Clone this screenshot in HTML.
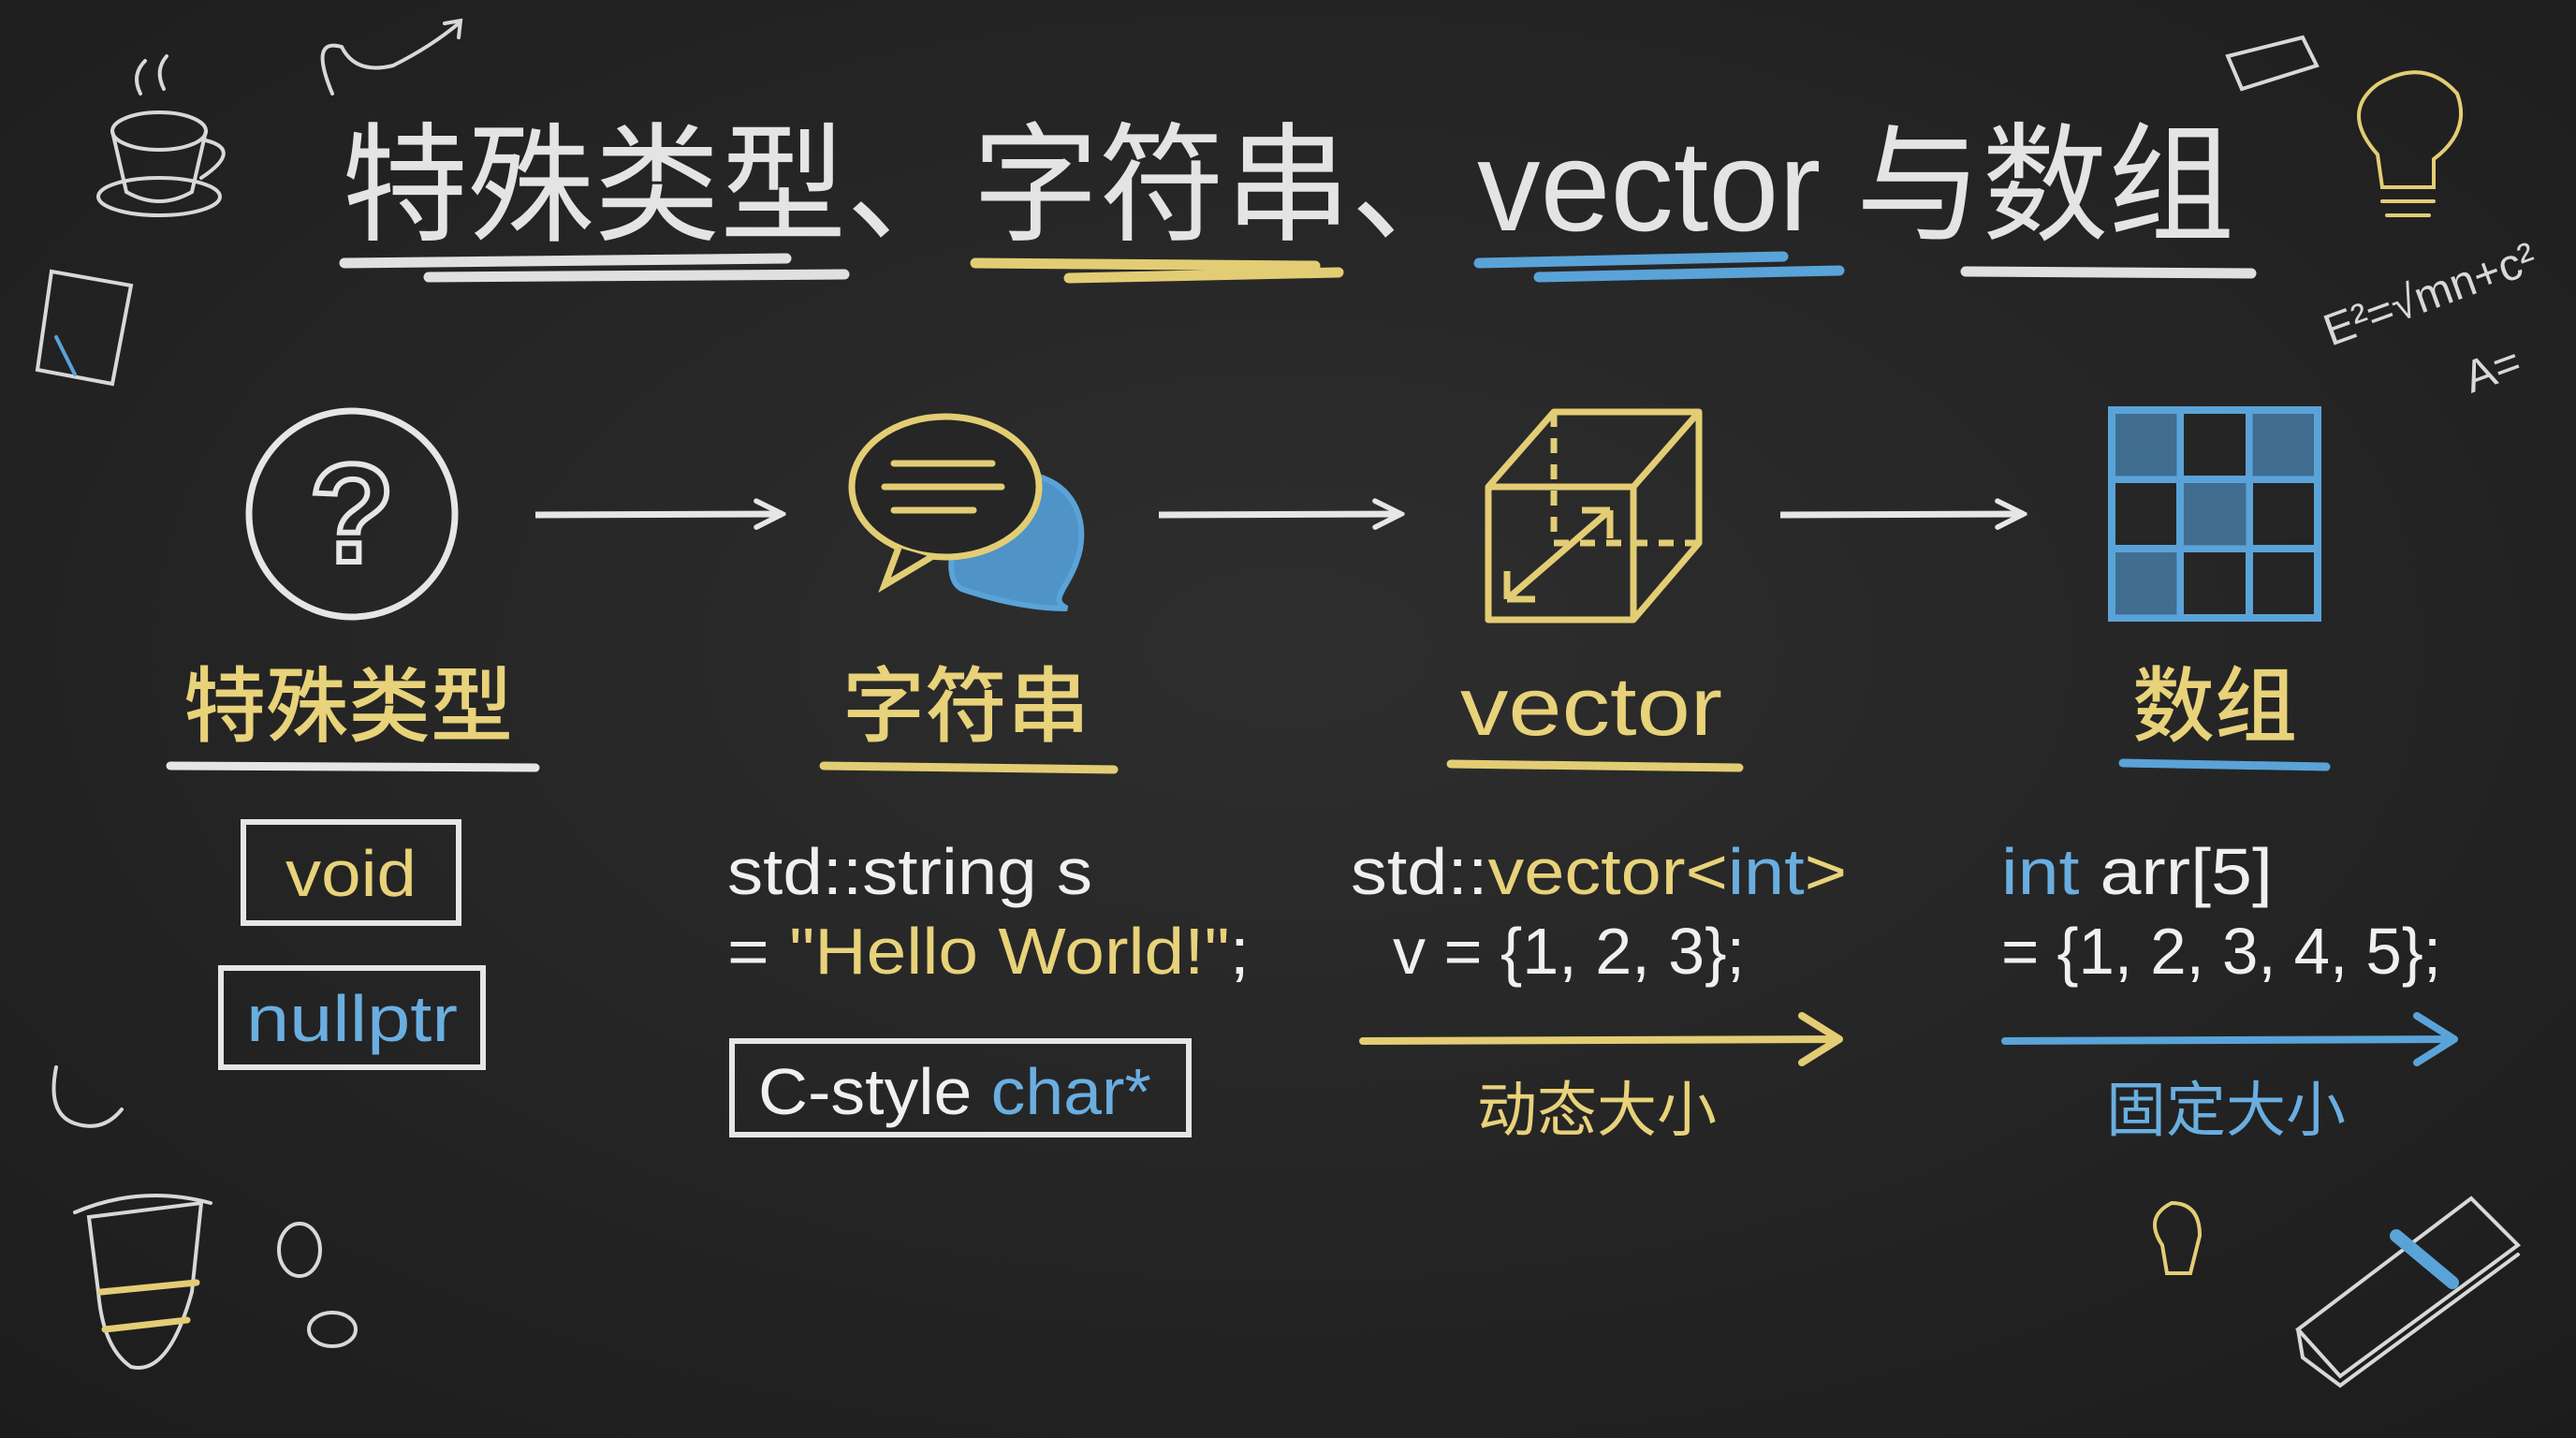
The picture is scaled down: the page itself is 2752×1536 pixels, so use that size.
<!DOCTYPE html>
<html><head><meta charset="utf-8"><style>
html,body{margin:0;padding:0;background:#262626;}
svg{display:block}
text{font-family:"Liberation Sans","Noto Sans CJK SC",sans-serif;}
</style></head><body>
<svg width="2752" height="1536" viewBox="0 0 2752 1536" xmlns="http://www.w3.org/2000/svg">
<defs>
<radialGradient id="bg" cx="50%" cy="45%" r="75%">
<stop offset="0" stop-color="#2e2e2e"/><stop offset="1" stop-color="#1c1c1c"/>
</radialGradient>
<marker id="ah" viewBox="0 0 10 10" refX="9" refY="5" markerWidth="5" markerHeight="5" orient="auto"><path d="M1 1 L9 5 L1 9" fill="none" stroke="#e6e6e6" stroke-width="1.6" stroke-linecap="round"/></marker>
</defs>
<rect width="2752" height="1536" fill="url(#bg)"/>

<!-- Title -->
<g font-family="Liberation Sans, Noto Sans CJK SC, sans-serif">
<text x="365" y="246" font-size="138" fill="#e4e4e4" font-family="Noto Sans CJK SC, sans-serif" textLength="2022" lengthAdjust="spacingAndGlyphs">特殊类型、字符串、vector 与数组</text>
</g>
<g stroke-linecap="round" fill="none" stroke-width="11">
<path d="M368 281 L840 276" stroke="#e0e0e0"/><path d="M458 296 L902 293" stroke="#e0e0e0"/>
<path d="M1042 281 L1405 284" stroke="#e3cd74"/><path d="M1142 297 L1430 291" stroke="#e3cd74"/>
<path d="M1580 281 L1905 274" stroke="#5aa3d8"/><path d="M1644 296 L1965 289" stroke="#5aa3d8"/>
<path d="M2100 290 L2405 292" stroke="#e0e0e0"/>
</g>

<!-- Icons -->
<circle cx="376" cy="549" r="110" fill="none" stroke="#e6e6e6" stroke-width="7"/>
<text x="376" y="600" font-size="150" fill="none" stroke="#e6e6e6" stroke-width="6" text-anchor="middle" font-weight="bold">?</text>

<path d="M572 550 L836 549" stroke="#e6e6e6" stroke-width="7" fill="none" marker-end="url(#ah)"/>
<path d="M1238 550 L1497 549" stroke="#e6e6e6" stroke-width="7" fill="none" marker-end="url(#ah)"/>
<path d="M1902 550 L2162 549" stroke="#e6e6e6" stroke-width="7" fill="none" marker-end="url(#ah)"/>

<!-- speech bubbles -->
<path d="M1080 505 C1150 505 1165 560 1150 600 C1140 630 1120 640 1140 650 C1100 650 1060 640 1030 630 C1000 620 1020 540 1080 505 Z" fill="#4f93c7" stroke="#5aa3d8" stroke-width="6"/>
<ellipse cx="1010" cy="520" rx="100" ry="75" fill="#262626" stroke="#e3cd74" stroke-width="7"/>
<path d="M960 585 L945 625 L995 595" fill="#262626" stroke="#e3cd74" stroke-width="7"/>
<g stroke="#e3cd74" stroke-width="7" stroke-linecap="round"><path d="M955 495 H1060"/><path d="M945 520 H1070"/><path d="M955 545 H1040"/></g>

<!-- cube -->
<g fill="none" stroke="#e3cd74" stroke-width="7" stroke-linejoin="round">
<path d="M1590 520 L1660 440 L1815 440 L1815 580 L1745 662 L1590 662 Z"/>
<path d="M1590 520 L1745 520 L1815 440 M1745 520 L1745 662"/>
<path d="M1660 440 L1660 580 L1815 580" stroke-dasharray="16 12"/>
<path d="M1610 640 L1720 545 M1610 640 L1610 610 M1610 640 L1640 640 M1720 545 L1690 545 M1720 545 L1720 575"/>
</g>

<!-- grid -->
<g fill="none" stroke="#5aa3d8" stroke-width="8">
<rect x="2256" y="438" width="220" height="222"/>
<path d="M2329 438 V660 M2403 438 V660 M2256 512 H2476 M2256 586 H2476"/>
</g>
<g fill="#4a86b4" opacity="0.75"><rect x="2260" y="442" width="66" height="67"/><rect x="2406" y="442" width="66" height="67"/><rect x="2333" y="516" width="67" height="67"/><rect x="2260" y="590" width="66" height="67"/></g>

<!-- labels -->
<g font-family="Noto Sans CJK SC, sans-serif" font-size="88" fill="#e8d27a" text-anchor="middle" font-weight="500">
<text x="372" y="785">特殊类型</text>
<text x="1032" y="785">字符串</text>
<text x="1700" y="785" font-family="Liberation Sans, sans-serif" textLength="280" lengthAdjust="spacingAndGlyphs">vector</text>
<text x="2366" y="785">数组</text>
</g>
<g stroke-linecap="round" stroke-width="9" fill="none">
<path d="M182 818 L572 820" stroke="#e6e6e6"/>
<path d="M880 818 L1190 822" stroke="#e3cd74"/>
<path d="M1550 816 L1858 820" stroke="#e3cd74"/>
<path d="M2268 815 L2485 819" stroke="#5aa3d8"/>
</g>

<!-- void / nullptr boxes -->
<g fill="none" stroke="#e6e6e6" stroke-width="6">
<rect x="260" y="878" width="230" height="108"/>
<rect x="236" y="1034" width="280" height="106"/>
<rect x="782" y="1112" width="488" height="100"/>
</g>
<g font-size="70" font-family="Liberation Sans, Noto Sans CJK SC, sans-serif">
<text x="375" y="957" fill="#e8d27a" text-anchor="middle" textLength="140" lengthAdjust="spacingAndGlyphs">void</text>
<text x="376" y="1112" fill="#6aaee0" text-anchor="middle" textLength="226" lengthAdjust="spacingAndGlyphs">nullptr</text>
<text x="810" y="1190" fill="#f0f0f0" textLength="420" lengthAdjust="spacingAndGlyphs">C-style <tspan fill="#6aaee0">char*</tspan></text>

<text x="777" y="955" fill="#f0f0f0" textLength="390" lengthAdjust="spacingAndGlyphs">std::string s</text>
<text x="777" y="1040" fill="#f0f0f0" textLength="558" lengthAdjust="spacingAndGlyphs">= <tspan fill="#e8d27a">"Hello World!"</tspan>;</text>

<text x="1443" y="955" fill="#f0f0f0" textLength="530" lengthAdjust="spacingAndGlyphs">std::<tspan fill="#e8d27a">vector&lt;</tspan><tspan fill="#6aaee0">int</tspan><tspan fill="#e8d27a">&gt;</tspan></text>
<text x="1488" y="1040" fill="#f0f0f0" textLength="376" lengthAdjust="spacingAndGlyphs">v = {1, 2, 3};</text>

<text x="2138" y="955" fill="#f0f0f0" textLength="290" lengthAdjust="spacingAndGlyphs"><tspan fill="#6aaee0">int</tspan> arr[5]</text>
<text x="2138" y="1040" fill="#f0f0f0" textLength="470" lengthAdjust="spacingAndGlyphs">= {1, 2, 3, 4, 5};</text>
</g>

<!-- size arrows -->
<g fill="none" stroke-width="8" stroke-linecap="round" stroke-linejoin="round">
<path d="M1456 1112 L1965 1110 M1925 1085 L1965 1110 L1925 1135" stroke="#e3cd74"/>
<path d="M2142 1112 L2622 1110 M2582 1085 L2622 1110 L2582 1135" stroke="#5aa3d8"/>
</g>
<g font-family="Noto Sans CJK SC, sans-serif" font-size="64" text-anchor="middle">
<text x="1706" y="1208" fill="#e8d27a">动态大小</text>
<text x="2378" y="1208" fill="#6aaee0">固定大小</text>
</g>

<!-- doodles -->
<g fill="none" stroke="#d8d8d8" stroke-width="4" stroke-linecap="round">
<ellipse cx="170" cy="140" rx="50" ry="20"/><path d="M120 140 L135 205 Q170 225 205 205 L220 140"/>
<path d="M220 150 Q260 160 215 190"/><ellipse cx="170" cy="210" rx="65" ry="20"/>
<path d="M150 100 Q140 80 155 65 M175 95 Q165 75 178 60"/>
<path d="M355 100 Q330 40 365 50 Q380 80 420 70 Q460 50 490 25 M475 25 L492 22 L490 40"/>
<path d="M55 290 L140 305 L120 410 L40 395 Z" /><path d="M60 360 L80 400" stroke="#5aa3d8"/>
<path d="M2380 60 L2460 40 L2475 70 L2395 95 Z M2380 60 L2395 95"/>
<path d="M2540 165 Q2500 120 2540 90 Q2590 60 2625 100 Q2640 140 2600 170 L2600 200 L2545 200 Z" stroke="#e3cd74"/>
<path d="M2545 215 H2600 M2550 230 H2595" stroke="#e3cd74"/>
<text x="2490" y="370" font-size="48" fill="#d8d8d8" stroke="none" font-family="Liberation Serif, serif" transform="rotate(-20 2490 370)">E²=√mn+c²</text>
<text x="2640" y="420" font-size="48" fill="#d8d8d8" stroke="none" font-family="Liberation Serif, serif" transform="rotate(-20 2640 420)">A=</text>
<path d="M95 1300 L215 1285 L205 1380 Q180 1470 140 1460 Q110 1440 105 1380 Z"/><path d="M80 1295 Q150 1265 225 1285"/>
<path d="M108 1380 L210 1370 M112 1420 L200 1410" stroke="#e3cd74" stroke-width="7"/>
<ellipse cx="320" cy="1335" rx="22" ry="28"/><ellipse cx="355" cy="1420" rx="25" ry="18"/>
<path d="M60 1140 Q50 1190 80 1200 Q110 1210 130 1185"/>
<path d="M2310 1330 Q2290 1300 2320 1285 Q2350 1285 2350 1320 L2340 1360 L2315 1360 Z" stroke="#e3cd74"/>
<path d="M2455 1420 L2640 1280 L2690 1330 L2500 1470 Z M2455 1420 L2460 1450 L2500 1480 L2690 1340"/>
<path d="M2560 1320 L2620 1370" stroke="#5aa3d8" stroke-width="14"/>
</g>
</svg>
</body></html>
